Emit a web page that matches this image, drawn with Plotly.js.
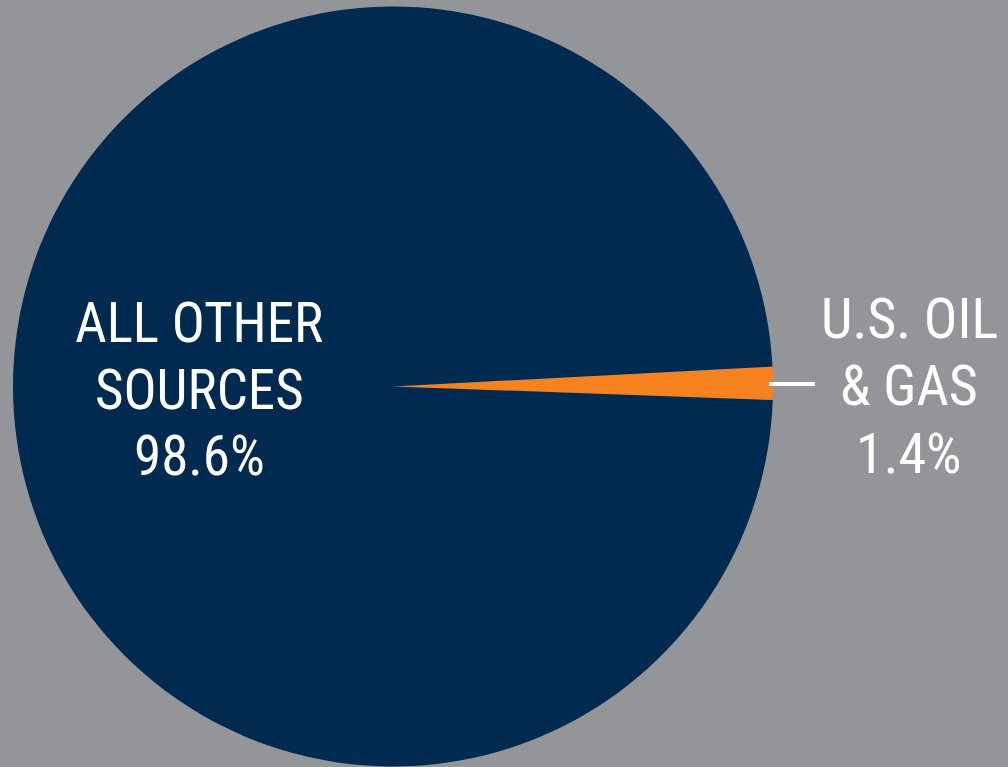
<!DOCTYPE html>
<html>
<head>
<meta charset="utf-8">
<script src="https://cdn.plot.ly/plotly-3.0.1.min.js"></script>
<style>html,body{margin:0;padding:0;background:#939598;overflow:hidden;}#chart{width:1008px;height:767px;}</style>
</head>
<body>
<div id="chart"></div>
<script>
const categories = ["U.S. OIL & GAS", "ALL OTHER SOURCES"];
const shares = [1.4, 98.6];
const labelLines = [["U.S. OIL", "& GAS"], ["ALL OTHER", "SOURCES"]];
const colors = ["#F5821F", "#002A4F"];

const W = 1008, H = 767;
const FONT = '"Liberation Sans Narrow", "Roboto Condensed", "DejaVu Sans Condensed", Roboto, sans-serif';

const trace = {
  type: 'pie',
  values: shares,
  labels: categories,
  sort: false,
  direction: 'clockwise',
  rotation: 87,
  marker: {colors: colors, line: {width: 0}},
  textinfo: 'none',
  hoverinfo: 'label+percent',
  domain: {x: [13 / W, 773 / W], y: [0, 1 - 6 / H]},
  showlegend: false
};

// one annotation per text line, centred on given cap-centre rows
function annLines(lines, val, px, rows, size) {
  const all = lines.concat([val.toFixed(1) + '%']);
  return all.map((t, i) => ({
    xref: 'paper', yref: 'paper',
    x: px / W, y: 1 - rows[i] / H,
    xanchor: 'center', yanchor: 'middle',
    text: t,
    showarrow: false,
    font: {family: FONT, size: size, color: '#FFFFFF'}
  }));
}

const layout = {
  width: W, height: H,
  margin: {l: 0, r: 0, t: 0, b: 0},
  paper_bgcolor: '#939598',
  plot_bgcolor: '#939598',
  annotations: [].concat(
    annLines(labelLines[1], shares[1], 199, [323, 390, 456], 55),
    annLines(labelLines[0], shares[0], 909, [319, 386, 454], 56)
  ),
  shapes: [{
    type: 'line', xref: 'paper', yref: 'paper',
    x0: 769 / W, x1: 815 / W, y0: 1 - 384 / H, y1: 1 - 384 / H,
    line: {color: '#FFFFFF', width: 4}
  }]
};

Plotly.newPlot('chart', [trace], layout, {displayModeBar: false, staticPlot: true});
</script>
</body>
</html>
